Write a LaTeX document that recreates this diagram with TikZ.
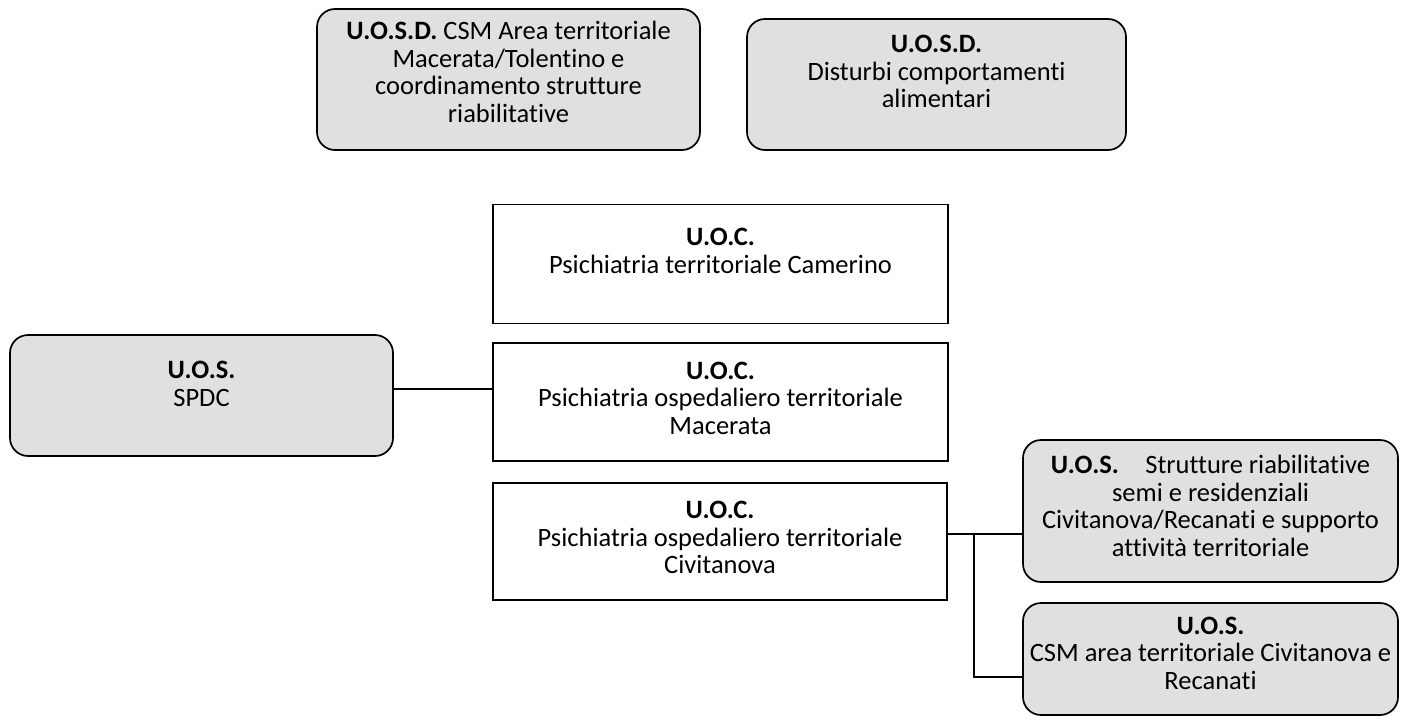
\documentclass[tikz,border=0pt]{standalone}
\usepackage{fontspec}
\setmainfont{Carlito}[Ligatures=CommonOff]
\begin{document}
\begin{tikzpicture}[x=1pt,y=-1pt,
  rbox/.style={draw=black,line width=1.7pt,rounded corners=18pt,fill=black!12,inner sep=0pt},
  sbox/.style={draw=black,line width=1.7pt,fill=white,inner sep=0pt},
  txt/.style={align=center,inner sep=0pt,font=\fontsize{26.5}{27.5}\selectfont},
  conn/.style={line width=1.6pt}]
\useasboundingbox (0,0) rectangle (1402,720);
% boxes
\node[rbox,minimum width=383pt,minimum height=141pt] (a) at (508.5,79.5) {};
\node[rbox,minimum width=379pt,minimum height=131pt] (b) at (936.5,84.5) {};
\node[sbox,minimum width=455pt,minimum height=119pt] (cam) at (720.5,264) {};
\node[sbox,minimum width=455pt,minimum height=118pt] (mac) at (720.5,402) {};
\node[sbox,minimum width=454pt,minimum height=117pt] (civ) at (720,541.5) {};
\node[rbox,minimum width=383pt,minimum height=121pt] (spdc) at (201.5,395.5) {};
\node[rbox,minimum width=375pt,minimum height=142pt] (str) at (1210.5,511) {};
\node[rbox,minimum width=375pt,minimum height=112pt] (csm) at (1210.5,659) {};
% texts
\node[txt] (ta) at (508.5,72) {\textbf{U.O.S.D.} CSM Area territoriale\\Macerata/Tolentino e\\coordinamento strutture\\riabilitative};
\node[txt] (tb) at (936.5,71.5) {\textbf{U.O.S.D.}\\Disturbi comportamenti\\alimentari};
\node[txt] (tcam) at (720.5,251) {\textbf{U.O.C.}\\Psichiatria territoriale Camerino};
\node[txt] (tmac) at (720.5,398) {\textbf{U.O.C.}\\Psichiatria ospedaliero territoriale\\Macerata};
\node[txt] (tciv) at (720,537.5) {\textbf{U.O.C.}\\Psichiatria ospedaliero territoriale\\Civitanova};
\node[txt] (tspdc) at (201.5,384) {\textbf{U.O.S.}\\SPDC};
\node[txt] (tstr) at (1210.5,506) {\textbf{U.O.S.}\quad Strutture riabilitative\\semi e residenziali\\Civitanova/Recanati e supporto\\attività territoriale};
\node[txt] (tcsm) at (1210.5,653) {\textbf{U.O.S.}\\CSM area territoriale Civitanova e\\Recanati};
% connectors
\coordinate (j1) at (0,389);
\coordinate (j2) at (974,534);
\coordinate (j3) at (974,677);
\draw[conn] (spdc.east |- j1) -- (mac.west |- j1);
\draw[conn] (civ.east |- j2) -- (str.west |- j2);
\draw[conn] (j2) -- (j3) -- (csm.west |- j3);
\end{tikzpicture}
\end{document}
